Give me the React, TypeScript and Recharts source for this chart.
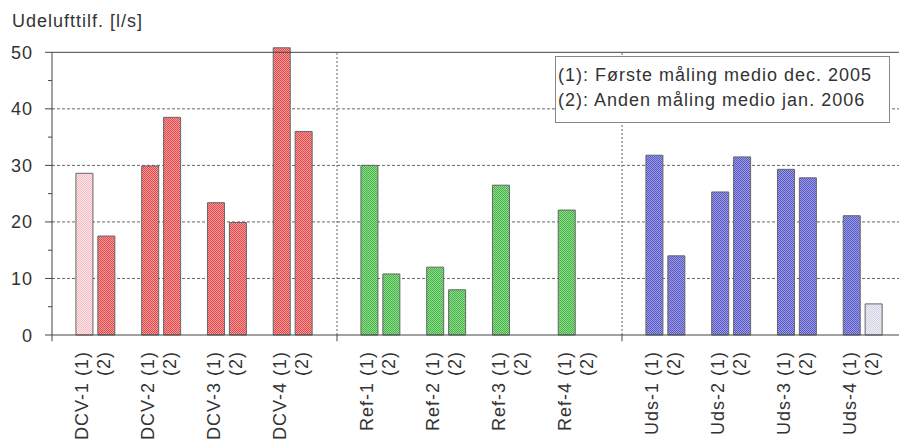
import { BarChart, Bar, XAxis, YAxis, CartesianGrid, ReferenceLine, Cell } from 'recharts';

const units = ['DCV-1', 'DCV-2', 'DCV-3', 'DCV-4', 'Ref-1', 'Ref-2', 'Ref-3', 'Ref-4', 'Uds-1', 'Uds-2', 'Uds-3', 'Uds-4'];
const firstMeasure = [28.6, 29.9, 23.4, 50.8, 30.0, 12.0, 26.5, 22.1, 31.8, 25.3, 29.3, 21.1];
const secondMeasure = [17.5, 38.5, 19.9, 36.0, 10.8, 8.0, null, null, 14.0, 31.5, 27.8, 5.5];
const firstFill = ['pink', 'red', 'red', 'red', 'green', 'green', 'green', 'green', 'blue', 'blue', 'blue', 'blue'];
const secondFill = ['red', 'red', 'red', 'red', 'green', 'green', 'green', 'green', 'blue', 'blue', 'blue', 'grey'];
const yTicks = [0, 5, 10, 15, 20, 25, 30, 35, 40, 45, 50];
const gridValues = [10, 20, 30, 40];
const legendLines = ['(1): Første måling medio dec. 2005', '(2): Anden måling medio jan. 2006'];
const yTitle = 'Udelufttilf. [l/s]';

// checker patterns: [dark, light]
const patterns: Record<string, [string, string]> = {
  red: ['#E04A4A', '#F59A9A'],
  pink: ['#F2BEC4', '#FDE4E8'],
  green: ['#44B444', '#92DA92'],
  blue: ['#5858C6', '#9C9CE2'],
  grey: ['#D0D0E0', '#F0F0F8'],
};

type Row = { id: string; label: string; value: number | null; fill: string | null };
const rows: Row[] = [];
const push = (label: string, value: number | null, fill: string | null) =>
  rows.push({ id: 'c' + rows.length, label, value, fill });
for (let g = 0; g < 3; g++) {
  push('', null, null);
  for (let u = 0; u < 4; u++) {
    const i = g * 4 + u;
    push(units[i] + ' (1)', firstMeasure[i], firstFill[i]);
    push('(2)', secondMeasure[i], secondFill[i]);
    push('', null, null);
  }
}

const font = '"Liberation Sans", Arial, sans-serif';
const textColor = '#333';

const XTick = (props: any) => {
  const { x, y, payload } = props;
  const row = rows.find((r) => r.id === payload.value);
  if (!row || !row.label) return null;
  return (
    <text
      transform={`translate(${x + 3.5},${y + 16}) rotate(-90)`}
      textAnchor="end"
      fontSize={18}
      letterSpacing={1}
      fill={textColor}
      fontFamily={font}
    >
      {row.label}
    </text>
  );
};

const YTick = (props: any) => {
  const { x, y, payload } = props;
  const major = payload.value % 10 === 0;
  return (
    <g>
      <line x1={x - (major ? 7 : 4)} x2={x} y1={y} y2={y} stroke="#444" />
      {major && (
        <text x={x - 19} y={y} dy={6.5} textAnchor="end" fontSize={18} letterSpacing={1} fill={textColor} fontFamily={font}>
          {payload.value}
        </text>
      )}
    </g>
  );
};

export default function App() {
  return (
    <div style={{ position: 'absolute', left: 0, top: 0, width: 899, height: 446, overflow: 'hidden', background: '#fff', fontFamily: font }}>
      <BarChart width={907} height={446} data={rows} margin={{ top: 41, right: 0, left: 0, bottom: 0 }}>
        <defs>
          {Object.entries(patterns).map(([key, [dark, light]]) => (
            <pattern key={key} id={'pat-' + key} width={2} height={2} patternUnits="userSpaceOnUse">
              <rect width={2} height={2} fill={light} />
              <rect width={1} height={1} fill={dark} />
              <rect x={1} y={1} width={1} height={1} fill={dark} />
            </pattern>
          ))}
        </defs>
        <CartesianGrid horizontalValues={gridValues} vertical={false} stroke="#666" strokeDasharray="3 2" />
        <XAxis
          dataKey="id"
          type="category"
          height={111}
          interval={0}
          tickLine={false}
          tickSize={0}
          tickMargin={0}
          axisLine={{ stroke: '#444' }}
          tick={<XTick />}
        />
        <YAxis
          type="number"
          domain={[0, 52]}
          ticks={yTicks}
          interval={0}
          width={52}
          axisLine={false}
          tickLine={false}
          tickSize={0}
          tickMargin={0}
          tick={<YTick />}
        />
        <ReferenceLine y={50} stroke="#444" />
        <ReferenceLine
          segment={[{ x: 'c0', y: -1.1 }, { x: 'c0', y: 50 }]}
          position="start"
          stroke="#444"
          ifOverflow="visible"
        />
        {['c13', 'c26'].map((id) => (
          <ReferenceLine
            key={id}
            segment={[{ x: id, y: 0 }, { x: id, y: 50 }]}
            position="start"
            stroke="#666"
            strokeDasharray="2 2"
            ifOverflow="visible"
          />
        ))}
        {['c13', 'c26'].map((id) => (
          <ReferenceLine
            key={id + '-tick'}
            segment={[{ x: id, y: -1.1 }, { x: id, y: 0 }]}
            position="start"
            stroke="#444"
            ifOverflow="visible"
          />
        ))}
        <Bar dataKey="value" barSize={17} isAnimationActive={false}>
          {rows.map((r) => (
            <Cell key={r.id} fill={r.fill ? `url(#pat-${r.fill})` : 'none'} stroke="#666" strokeWidth={1} />
          ))}
        </Bar>
      </BarChart>
      <div style={{ position: 'absolute', left: 12, top: 11, fontSize: 18, lineHeight: '20px', letterSpacing: 1, color: textColor, whiteSpace: 'nowrap' }}>
        {yTitle}
      </div>
      <div
        style={{
          position: 'absolute',
          left: 555,
          top: 56,
          width: 335,
          height: 67,
          boxSizing: 'border-box',
          border: '1px solid #888',
          background: '#fff',
          padding: '6px 0 0 2px',
          fontSize: 18,
          lineHeight: '25px',
          letterSpacing: 1,
          color: textColor,
          whiteSpace: 'nowrap',
        }}
      >
        {legendLines.map((l) => (
          <div key={l}>{l}</div>
        ))}
      </div>
    </div>
  );
}
